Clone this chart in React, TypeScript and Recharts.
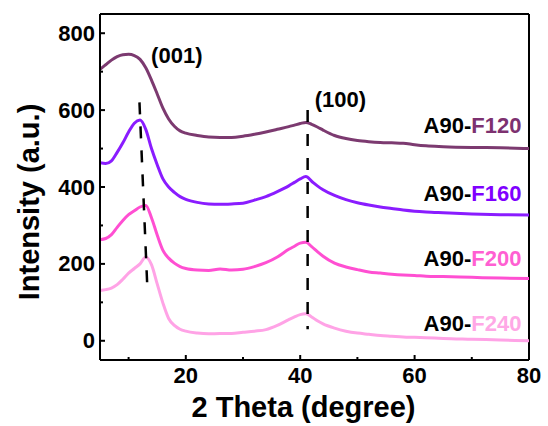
import { LineChart, Line, XAxis, YAxis, ReferenceLine, ReferenceDot, Label } from "recharts";

// 2 theta positions (degree)
const theta = [5, 6, 7, 8, 9, 10, 11, 12, 13, 14, 15, 16, 17, 18, 19, 20, 22, 24, 26, 28, 30, 32, 34, 36, 38, 39, 40, 41, 42, 43, 44, 46, 48, 50, 52, 54, 56, 58, 60, 62, 65, 70, 75, 80];

// intensities, already stacked with offsets as in the figure
const f120 = [706, 718, 730, 739, 744, 745, 742, 732, 710, 678, 642, 605, 577, 558, 546, 540, 534, 530, 529, 529, 532, 537, 543, 550, 557, 561, 565, 568, 563, 556, 548, 534, 526, 521, 518, 516, 515, 514, 510, 507, 505, 503, 502, 500];
const f160 = [463, 461, 468, 490, 515, 543, 566, 574, 550, 500, 458, 421, 400, 386, 375, 368, 360, 356, 355, 356, 358, 366, 375, 388, 403, 412, 421, 427, 415, 403, 393, 378, 367, 359, 353, 348, 344, 340, 337, 335, 333, 330, 328, 327];
const f200 = [263, 266, 276, 295, 313, 328, 338, 348, 352, 320, 275, 235, 215, 202, 193, 188, 184, 183, 187, 184, 186, 193, 203, 218, 238, 246, 254, 256, 245, 232, 220, 202, 192, 185, 179, 176, 173, 171, 170, 168, 167, 165, 163, 162];
const f240 = [131, 133, 137, 146, 160, 176, 188, 200, 218, 198, 148, 98, 58, 40, 30, 25, 20, 18, 19, 19, 22, 25, 29, 40, 55, 62, 68, 70, 62, 52, 44, 33, 25, 20, 17, 14, 12, 10, 9, 8, 6, 4, 2, 0];

const seriesKeys = ["F120", "F160", "F200", "F240"];
const lineColors = ["#7c3a70", "#8a1cff", "#ff4fd2", "#ffa3e6"];
const labelColors = ["#7d3170", "#7f00ff", "#ff5fd2", "#ffa8e6"];
const labelY = [558, 382, 214, 44];

const xTicks = [10, 20, 30, 40, 50, 60, 70, 80];
const yTicks = [0, 100, 200, 300, 400, 500, 600, 700, 800];

const data = theta.map((t, i) => ({
    theta: t,
    F120: f120[i],
    F160: f160[i],
    F200: f200[i],
    F240: f240[i],
}));

const FONT = "'Liberation Sans', Arial, sans-serif";

function XTick(props: any) {
    const { x, y, payload } = props;
    const axisY = y - 15;
    const major = payload.value % 20 === 0;
    return (
        <g>
            <line x1={x} x2={x} y1={axisY} y2={axisY - (major ? 5 : 3)} stroke="#000" strokeWidth={2} />
            {major && (
                <text x={x} y={y} textAnchor="middle" dominantBaseline="central" fontFamily={FONT} fontWeight="bold" fontSize={22} fill="#000">
                    {payload.value}
                </text>
            )}
        </g>
    );
}

function YTick(props: any) {
    const { x, y, payload } = props;
    const axisX = x + 5;
    const major = payload.value % 200 === 0;
    return (
        <g>
            <line x1={axisX} x2={axisX + (major ? 5 : 3)} y1={y} y2={y} stroke="#000" strokeWidth={2} />
            {major && (
                <text x={x} y={y} textAnchor="end" dominantBaseline="central" fontFamily={FONT} fontWeight="bold" fontSize={22} fill="#000">
                    {payload.value}
                </text>
            )}
        </g>
    );
}

export default function App() {
    return (
        <div style={{ position: "absolute", left: 0, top: 0 }}>
            <LineChart width={548} height={426} data={data} margin={{ top: 14, right: 19, left: 0, bottom: 0 }}>
                <XAxis
                    dataKey="theta"
                    type="number"
                    domain={[5, 80]}
                    ticks={xTicks}
                    height={66}
                    tickSize={0}
                    tickMargin={15}
                    tickLine={false}
                    tick={<XTick />}
                    axisLine={{ stroke: "#000", strokeWidth: 2 }}
                    allowDataOverflow
                >
                    <Label
                        content={(p: any) => (
                            <text
                                x={p.viewBox.x + p.viewBox.width / 2 - 11}
                                y={p.viewBox.y + 47}
                                textAnchor="middle"
                                dominantBaseline="central"
                                fontFamily={FONT}
                                fontWeight="bold"
                                fontSize={29}
                                fill="#000"
                            >
                                2 Theta (degree)
                            </text>
                        )}
                    />
                </XAxis>
                <YAxis
                    type="number"
                    domain={[-50, 850]}
                    ticks={yTicks}
                    width={100}
                    tickSize={0}
                    tickMargin={5}
                    tickLine={false}
                    tick={<YTick />}
                    axisLine={{ stroke: "#000", strokeWidth: 2 }}
                    allowDataOverflow
                >
                    <Label
                        content={(p: any) => {
                            const cx = p.viewBox.x + 29;
                            const cy = p.viewBox.y + p.viewBox.height / 2 + 15;
                            return (
                                <text
                                    x={cx}
                                    y={cy}
                                    transform={`rotate(-90 ${cx} ${cy})`}
                                    textAnchor="middle"
                                    dominantBaseline="central"
                                    fontFamily={FONT}
                                    fontWeight="bold"
                                    fontSize={29}
                                    fill="#000"
                                >
                                    Intensity (a.u.)
                                </text>
                            );
                        }}
                    />
                </YAxis>
                {/* frame */}
                <ReferenceLine y={850} stroke="#000" strokeWidth={2} ifOverflow="visible" />
                <ReferenceLine x={80} stroke="#000" strokeWidth={2} ifOverflow="visible" />

                {seriesKeys.map((k, i) => (
                    <Line
                        key={k}
                        type="monotone"
                        dataKey={k}
                        stroke={lineColors[i]}
                        strokeWidth={3}
                        dot={false}
                        isAnimationActive={false}
                    />
                ))}

                {/* peak guides */}
                <ReferenceLine segment={[{ x: 11.9, y: 620 }, { x: 13.3, y: 130 }]} stroke="#000" strokeWidth={2.5} strokeDasharray="12 12" />
                <ReferenceLine segment={[{ x: 41.3, y: 600 }, { x: 41.3, y: 30 }]} stroke="#000" strokeWidth={2.5} strokeDasharray="12 12" />

                <ReferenceDot
                    x={18.6}
                    y={740}
                    r={1}
                    fill="none"
                    stroke="none"
                    label={(p: any) => (
                        <text x={p.viewBox.x} y={p.viewBox.y} textAnchor="middle" dominantBaseline="central" fontFamily={FONT} fontWeight="bold" fontSize={22} fill="#000">
                            (001)
                        </text>
                    )}
                />
                <ReferenceDot
                    x={47.2}
                    y={625}
                    r={1}
                    fill="none"
                    stroke="none"
                    label={(p: any) => (
                        <text x={p.viewBox.x} y={p.viewBox.y} textAnchor="middle" dominantBaseline="central" fontFamily={FONT} fontWeight="bold" fontSize={22} fill="#000">
                            (100)
                        </text>
                    )}
                />

                {seriesKeys.map((k, i) => (
                    <ReferenceDot
                        key={"lbl" + k}
                        x={78.5}
                        y={labelY[i]}
                        r={1}
                        fill="none"
                        stroke="none"
                        label={(p: any) => (
                            <text x={p.viewBox.x + p.viewBox.width} y={p.viewBox.y} textAnchor="end" dominantBaseline="central" fontFamily={FONT} fontWeight="bold" fontSize={22}>
                                <tspan fill="#000">A90-</tspan>
                                <tspan fill={labelColors[i]}>{k}</tspan>
                            </text>
                        )}
                    />
                ))}
            </LineChart>
        </div>
    );
}
